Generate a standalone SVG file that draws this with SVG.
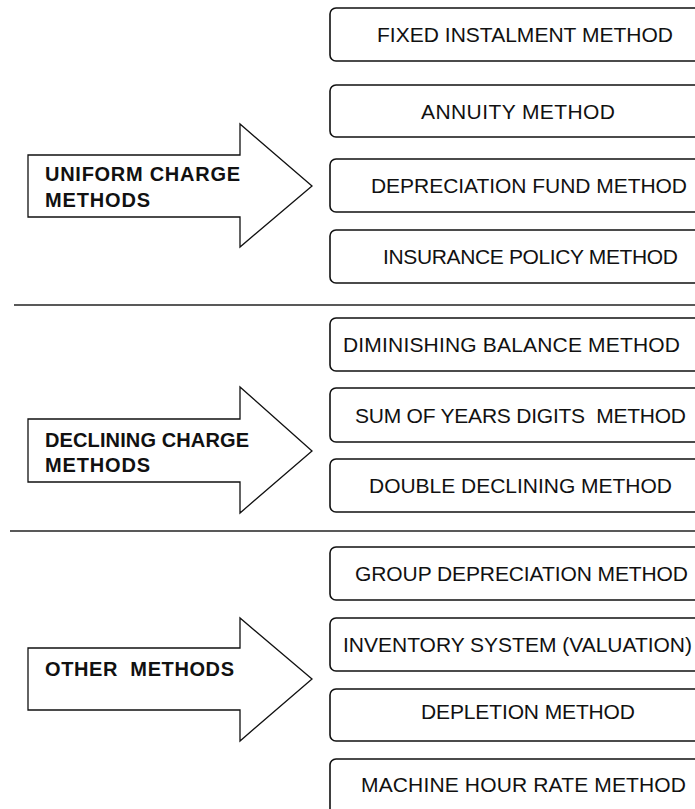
<svg xmlns="http://www.w3.org/2000/svg" width="695" height="809" viewBox="0 0 695 809">
<style>
.box{fill:#fff;stroke:#111;stroke-width:1.6}
.arrow{fill:#fff;stroke:#111;stroke-width:1.3;stroke-linejoin:miter}
.sep{stroke:#222;stroke-width:1.6}
.bt{font-family:"Liberation Sans",Arial,sans-serif;font-size:21px;fill:#111}
.at{font-family:"Liberation Sans",Arial,sans-serif;font-size:20px;font-weight:bold;fill:#111}
</style>
<rect width="695" height="809" fill="#fff"/>
<g id="separators">
<line class="sep" x1="14" y1="305" x2="695" y2="305"/>
<line class="sep" x1="10" y1="531" x2="695" y2="531"/>
</g>
<g id="uniform">
<polygon class="arrow" points="28,155 240,155 240,124 312,186 240,247 240,217 28,217"/>
<text class="at" x="45" y="181" textLength="195">UNIFORM CHARGE</text>
<text class="at" x="45" y="207" textLength="105">METHODS</text>
</g>
<g id="declining">
<polygon class="arrow" points="28,419 240,419 240,387 312,451 240,513 240,482 28,482"/>
<text class="at" x="45" y="447" textLength="204">DECLINING CHARGE</text>
<text class="at" x="45" y="472" textLength="105">METHODS</text>
</g>
<g id="other">
<polygon class="arrow" points="28,648 240,648 240,618 312,679 240,741 240,710 28,710"/>
<text class="at" x="45" y="676" textLength="189" xml:space="preserve">OTHER  METHODS</text>
</g>
<g id="fixed"><rect class="box" x="330" y="8" width="380" height="53" rx="6"/><text class="bt" x="377" y="42" textLength="296">FIXED INSTALMENT METHOD</text></g>
<g id="annuity"><rect class="box" x="330" y="85" width="380" height="52" rx="6"/><text class="bt" x="421" y="119" textLength="194">ANNUITY METHOD</text></g>
<g id="depfund"><rect class="box" x="330" y="159" width="380" height="53" rx="6"/><text class="bt" x="371" y="193" textLength="316">DEPRECIATION FUND METHOD</text></g>
<g id="insurance"><rect class="box" x="330" y="230" width="380" height="53" rx="6"/><text class="bt" x="383" y="264" textLength="295">INSURANCE POLICY METHOD</text></g>
<g id="diminishing"><rect class="box" x="330" y="318" width="380" height="53" rx="6"/><text class="bt" x="343" y="352" textLength="337">DIMINISHING BALANCE METHOD</text></g>
<g id="sumyears"><rect class="box" x="330" y="388" width="380" height="54" rx="6"/><text class="bt" x="355" y="423" textLength="331" xml:space="preserve">SUM OF YEARS DIGITS  METHOD</text></g>
<g id="double"><rect class="box" x="330" y="459" width="380" height="53" rx="6"/><text class="bt" x="369" y="493" textLength="303">DOUBLE DECLINING METHOD</text></g>
<g id="group"><rect class="box" x="330" y="547" width="380" height="53" rx="6"/><text class="bt" x="355" y="581" textLength="333">GROUP DEPRECIATION METHOD</text></g>
<g id="inventory"><rect class="box" x="330" y="618" width="380" height="53" rx="6"/><text class="bt" x="343" y="652" textLength="349">INVENTORY SYSTEM (VALUATION)</text></g>
<g id="depletion"><rect class="box" x="330" y="689" width="380" height="52" rx="6"/><text class="bt" x="421" y="719" textLength="214">DEPLETION METHOD</text></g>
<g id="machine"><rect class="box" x="330" y="759" width="380" height="60" rx="6"/><text class="bt" x="361" y="792" textLength="325">MACHINE HOUR RATE METHOD</text></g>
</svg>
